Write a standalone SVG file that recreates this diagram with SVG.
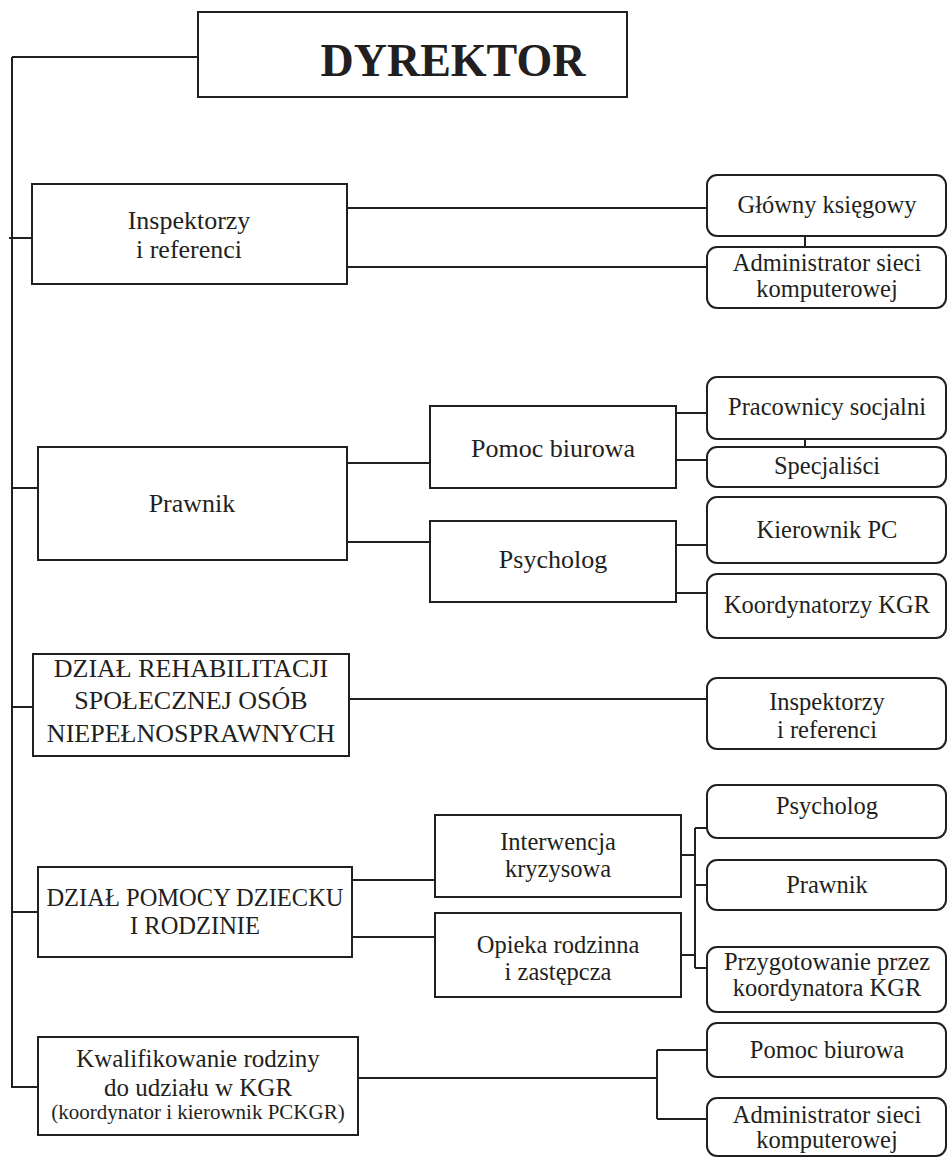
<svg xmlns="http://www.w3.org/2000/svg" width="948" height="1158" viewBox="0 0 948 1158" font-family="'Liberation Serif', 'DejaVu Serif', serif">
<style>
.box{fill:#fff;stroke:#231f20;stroke-width:2}
.rbox{fill:#fff;stroke:#231f20;stroke-width:2}
.ln{fill:none;stroke:#231f20;stroke-width:2}
text{font-family:'Liberation Serif','DejaVu Serif',serif;fill:#231f20;text-anchor:middle}
.t27{font-size:26px}
.t24{font-size:24.5px}
.t21{font-size:21px}
</style>
<rect width="948" height="1158" fill="#fff"/>
<g id="connectors">
<path class="ln" d="M12,57 H198 M12,57 V1087 H38"/>
<path class="ln" d="M9,238 H32"/>
<path class="ln" d="M12,488 H38"/>
<path class="ln" d="M12,707 H33"/>
<path class="ln" d="M12,912 H38"/>
<path class="ln" d="M347,208 H707 M347,267 H707 M805,236 V247"/>
<path class="ln" d="M347,463 H430 M347,542 H430"/>
<path class="ln" d="M676,413 H707 M676,460 H707 M805,439 V447"/>
<path class="ln" d="M676,545 H707 M676,593 H707"/>
<path class="ln" d="M349,699 H707"/>
<path class="ln" d="M352,880 H435 M352,937 H435"/>
<path class="ln" d="M681,855 H695 M681,955 H695 M695,828 V968 M695,828 H707 M695,885 H707 M695,968 H707"/>
<path class="ln" d="M358,1078 H657 M657,1050 V1119 M657,1050 H707 M657,1119 H707"/>
</g>
<g id="dyrektor">
<rect class="box" x="198" y="12" width="429" height="85"/>
<text x="453" y="76" style="font-size:46px;font-weight:bold">DYREKTOR</text>
</g>
<g id="inspektorzy">
<rect class="box" x="32" y="184" width="315" height="100"/>
<text class="t27" x="189" y="229">Inspektorzy</text>
<text class="t27" x="189" y="258">i referenci</text>
</g>
<g id="glowny">
<rect class="rbox" x="707" y="175" width="239" height="61" rx="10"/>
<text class="t24" x="827" y="213">Główny księgowy</text>
</g>
<g id="admin1">
<rect class="rbox" x="707" y="247" width="239" height="61" rx="10"/>
<text class="t24" x="827" y="271">Administrator sieci</text>
<text class="t24" x="827" y="297">komputerowej</text>
</g>
<g id="prawnik">
<rect class="box" x="38" y="447" width="309" height="113"/>
<text class="t27" x="192" y="512">Prawnik</text>
</g>
<g id="pomoc-biurowa">
<rect class="box" x="430" y="406" width="246" height="82"/>
<text class="t27" x="553" y="457">Pomoc biurowa</text>
</g>
<g id="psycholog">
<rect class="box" x="430" y="521" width="246" height="81"/>
<text class="t27" x="553" y="568">Psycholog</text>
</g>
<g id="pracownicy">
<rect class="rbox" x="707" y="377" width="239" height="62" rx="10"/>
<text class="t24" x="827" y="415">Pracownicy socjalni</text>
</g>
<g id="specjalisci">
<rect class="rbox" x="707" y="447" width="239" height="40" rx="10"/>
<text class="t24" x="827" y="474">Specjaliści</text>
</g>
<g id="kierownik-pc">
<rect class="rbox" x="707" y="497" width="239" height="66" rx="10"/>
<text class="t24" x="827" y="538">Kierownik PC</text>
</g>
<g id="koordynatorzy">
<rect class="rbox" x="707" y="574" width="239" height="64" rx="10"/>
<text class="t24" x="827" y="613">Koordynatorzy KGR</text>
</g>
<g id="dzial-rehab">
<rect class="box" x="33" y="654" width="316" height="102"/>
<text class="t27" x="191" y="677">DZIAŁ REHABILITACJI</text>
<text class="t27" x="191" y="709">SPOŁECZNEJ OSÓB</text>
<text class="t27" x="191" y="742">NIEPEŁNOSPRAWNYCH</text>
</g>
<g id="inspektorzy2">
<rect class="rbox" x="707" y="678" width="239" height="71" rx="10"/>
<text class="t24" x="827" y="710">Inspektorzy</text>
<text class="t24" x="827" y="738">i referenci</text>
</g>
<g id="dzial-pomocy">
<rect class="box" x="38" y="867" width="314" height="90"/>
<text class="t24" x="195" y="906">DZIAŁ POMOCY DZIECKU</text>
<text class="t24" x="195" y="934">I RODZINIE</text>
</g>
<g id="interwencja">
<rect class="box" x="435" y="815" width="246" height="82"/>
<text class="t24" x="558" y="850">Interwencja</text>
<text class="t24" x="558" y="877">kryzysowa</text>
</g>
<g id="opieka">
<rect class="box" x="435" y="913" width="246" height="84"/>
<text class="t24" x="558" y="953">Opieka rodzinna</text>
<text class="t24" x="558" y="980">i zastępcza</text>
</g>
<g id="psycholog2">
<rect class="rbox" x="707" y="785" width="239" height="53" rx="10"/>
<text class="t24" x="827" y="814">Psycholog</text>
</g>
<g id="prawnik2">
<rect class="rbox" x="707" y="860" width="239" height="50" rx="10"/>
<text class="t24" x="827" y="893">Prawnik</text>
</g>
<g id="przygotowanie">
<rect class="rbox" x="707" y="947" width="239" height="65" rx="10"/>
<text class="t24" x="827" y="970">Przygotowanie przez</text>
<text class="t24" x="827" y="996">koordynatora KGR</text>
</g>
<g id="kwalifikowanie">
<rect class="box" x="38" y="1037" width="320" height="98"/>
<text class="t24" x="198" y="1067" style="font-size:25px">Kwalifikowanie rodziny</text>
<text class="t24" x="198" y="1096" style="font-size:25px">do udziału w KGR</text>
<text class="t21" x="198" y="1119">(koordynator i kierownik PCKGR)</text>
</g>
<g id="pomoc-biurowa2">
<rect class="rbox" x="707" y="1023" width="239" height="54" rx="10"/>
<text class="t24" x="827" y="1058">Pomoc biurowa</text>
</g>
<g id="admin2">
<rect class="rbox" x="707" y="1098" width="239" height="58" rx="10"/>
<text class="t24" x="827" y="1123">Administrator sieci</text>
<text class="t24" x="827" y="1148">komputerowej</text>
</g>
</svg>
